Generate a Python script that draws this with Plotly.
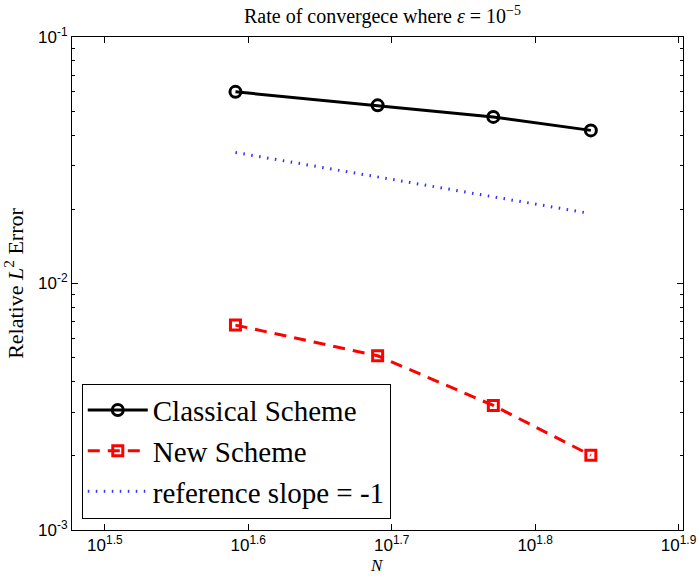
import plotly.graph_objects as go

N = [39, 49, 59, 69]
classical = [0.0599, 0.0528, 0.0474, 0.0418]
new_scheme = [0.00678, 0.00509, 0.00320, 0.00201]
ref_N = [39, 68.7]
reference = [0.0340, 0.0193]

x_tickvals = [10**1.5, 10**1.6, 10**1.7, 10**1.8, 10**1.9]
x_ticktext = ["10<sup>1.5</sup>", "10<sup>1.6</sup>", "10<sup>1.7</sup>", "10<sup>1.8</sup>", "10<sup>1.9</sup>"]
y_tickvals = [1e-3, 1e-2, 1e-1]
y_ticktext = ["10<sup>-3</sup>", "10<sup>-2</sup>", "10<sup>-1</sup>"]
y_minor = [m * 10**e for e in (-3, -2) for m in range(2, 10)]

fig = go.Figure()
fig.add_trace(go.Scatter(
    x=N, y=classical, name="Classical Scheme", mode="lines+markers",
    line=dict(color="black", width=3),
    marker=dict(symbol="circle-open", size=11, color="black", line=dict(width=3)),
))
fig.add_trace(go.Scatter(
    x=N, y=new_scheme, name="New Scheme", mode="lines+markers",
    line=dict(color="red", width=3, dash="12px,8px"),
    marker=dict(symbol="square-open", size=10, color="red", line=dict(width=3)),
))
fig.add_trace(go.Scatter(
    x=ref_N, y=reference, name="reference slope = -1", mode="lines",
    line=dict(color="#3030ff", width=3, dash="1.5px,6.5px"),
))

axis_common = dict(showline=True, linecolor="black", linewidth=1, mirror="ticks",
                   ticks="inside", ticklen=6, tickcolor="black", showgrid=False,
                   zeroline=False, automargin=False,
                   tickfont=dict(family="Liberation Sans", size=17, color="black"))

fig.update_xaxes(type="log", range=[1.4771, 1.9031], tickvals=x_tickvals, ticktext=x_ticktext,
                 **axis_common)
fig.update_yaxes(type="log", range=[-3, -1], tickvals=y_tickvals, ticktext=y_ticktext,
                 minor=dict(tickvals=y_minor, ticks="inside", ticklen=3, tickcolor="black"),
                 title=dict(text="Relative <i>L</i><sup>2</sup> Error", font=dict(family="Liberation Serif", size=22, color="black"), standoff=8),
                 **axis_common)

fig.add_annotation(text="<i>N</i>", xref="paper", yref="paper", x=0.499, y=-0.072,
                   xanchor="center", yanchor="middle", showarrow=False,
                   font=dict(family="Liberation Serif", size=17, color="black"))

fig.update_layout(
    width=698, height=577,
    margin=dict(l=72, r=15, t=37, b=47),
    paper_bgcolor="white", plot_bgcolor="white",
    title=dict(text="Rate of convergece where <i>ε</i> = 10<sup>−5</sup>", x=0.548, xanchor="center",
               y=0.984, yanchor="top", font=dict(family="Liberation Serif", size=20, color="black")),
    legend=dict(x=0.016, y=0.297, xanchor="left", yanchor="top", bgcolor="white",
                bordercolor="black", borderwidth=1, itemwidth=60,
                font=dict(family="Liberation Serif", size=29, color="black"),
                tracegroupgap=0),
    showlegend=True,
)

fig.write_html("out.html", config={"displayModeBar": False},
               post_script="document.body.style.margin='0';")
